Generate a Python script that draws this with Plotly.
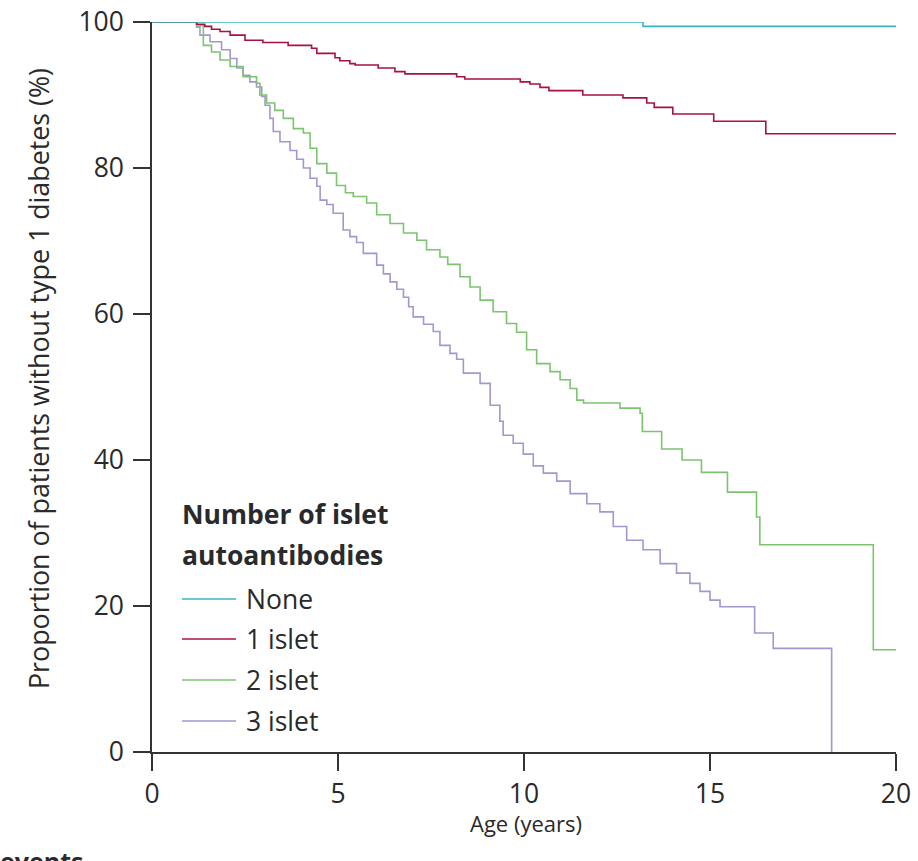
import plotly.graph_objects as go

# ---------------- data ----------------
none_t = [0, 13.2, 20]
none_v = [100, 99.4, 99.4]

one_t = [0, 1.2, 1.42, 1.6, 1.83, 2.1, 2.5, 2.98, 3.66, 4.29, 4.43, 4.92, 5.05, 5.32, 5.46,
         6.08, 6.53, 6.8, 8.19, 8.41, 9.9, 10.16, 10.43, 10.67, 11.58, 12.66, 13.3, 13.5,
         14.0, 15.1, 16.5, 20]
one_v = [100, 99.7, 99.4, 99.0, 98.7, 98.2, 97.5, 97.2, 96.8, 96.4, 95.7, 95.1, 94.7, 94.3, 94.1,
         93.7, 93.2, 92.9, 92.5, 92.2, 91.8, 91.5, 91.05, 90.6, 90.0, 89.6, 88.9, 88.3,
         87.4, 86.4, 84.7, 84.7]

two_t = [0, 1.2, 1.38, 1.6, 1.83, 2.1, 2.45, 2.81, 2.9, 3.08, 3.3, 3.53, 3.8, 4.07, 4.25, 4.43,
         4.7, 4.96, 5.2, 5.41, 5.77, 6.04, 6.4, 6.76, 7.12, 7.38, 7.74, 7.95, 8.28, 8.55, 8.82,
         9.17, 9.53, 9.8, 10.07, 10.34, 10.7, 10.97, 11.24, 11.42, 11.6, 12.58, 13.12, 13.18,
         13.7, 14.25, 14.77, 15.47, 16.25, 16.34, 19.39, 20]
two_v = [100, 99.5, 96.8, 95.9, 94.8, 93.9, 92.5, 91.6, 90.0, 88.9, 87.9, 86.8, 85.4, 84.8, 82.7, 80.6,
         79.3, 77.6, 76.6, 76.1, 75.2, 73.6, 72.4, 71.1, 70.1, 68.8, 67.8, 66.8, 65.1, 63.7, 61.9,
         60.3, 58.7, 57.5, 55.1, 53.2, 52.1, 51.0, 49.8, 48.2, 47.8, 47.1, 46.4, 43.9,
         41.5, 40.0, 38.3, 35.6, 32.2, 28.4, 14.0, 14.0]

three_t = [0, 1.2, 1.29, 1.56, 1.87, 2.1, 2.28, 2.45, 2.63, 2.81, 2.95, 3.04, 3.17, 3.26, 3.44,
           3.71, 3.89, 4.07, 4.25, 4.43, 4.52, 4.7, 4.87, 5.14, 5.32, 5.5, 5.68, 6.04, 6.22, 6.4,
           6.58, 6.76, 6.9, 7.02, 7.3, 7.56, 7.74, 8.01, 8.19, 8.37, 8.82, 9.09, 9.35, 9.44, 9.71,
           9.98, 10.25, 10.52, 10.88, 11.24, 11.69, 12.04, 12.4, 12.76, 13.2, 13.66, 14.1, 14.46,
           14.73, 15.0, 15.27, 16.2, 16.7, 18.27]
three_v = [100, 99.3, 98.2, 97.3, 96.2, 95.0, 93.7, 92.7, 91.8, 91.1, 89.8, 88.6, 86.8, 85.0, 83.6,
           82.4, 81.2, 80.0, 78.6, 77.5, 75.6, 75.0, 73.8, 71.5, 70.6, 69.8, 68.3, 66.7, 65.5, 64.4,
           63.4, 62.3, 61.0, 59.6, 58.6, 57.6, 55.7, 54.6, 53.8, 51.9, 50.5, 47.5, 45.3, 43.4, 42.3,
           40.8, 39.2, 38.2, 37.1, 35.4, 34.0, 32.9, 30.9, 29.0, 27.7, 25.8, 24.5, 23.1,
           22.0, 20.8, 19.9, 16.3, 14.2, 0]

series_names = ["None", "1 islet", "2 islet", "3 islet"]
x_ticks = [0, 5, 10, 15, 20]
y_ticks = [0, 20, 40, 60, 80, 100]

# ---------------- styling ----------------
colors = ["#3cb4c0", "#a8123f", "#7cc470", "#a397cf"]
FONT = "Open Sans"
TXT = "#2a2a2a"

W, H = 918, 861
SX0, SX1, SY0, SY1 = 152, 896, 22, 752   # plot area in page pixels
L, T = SX0, SY0
R = W - SX1
B = H - SY1
PW, PH = SX1 - SX0, SY1 - SY0


def px_x(px):
    return (px - SX0) / PW


def px_y(py):
    return (SY1 - py) / PH


fig = go.Figure()
for t, v, name, c in zip([none_t, one_t, two_t, three_t],
                         [none_v, one_v, two_v, three_v], series_names, colors):
    fig.add_trace(go.Scatter(x=t, y=v, mode="lines", name=name,
                             line=dict(color=c, width=1.6, shape="hv"),
                             cliponaxis=False, showlegend=False))

fig.data = fig.data[::-1]

fig.update_layout(
    width=W, height=H,
    margin=dict(l=L, r=R, t=T, b=B, autoexpand=False),
    paper_bgcolor="white", plot_bgcolor="white",
    font=dict(family=FONT, color=TXT, size=24),
    showlegend=False,
)
axis_common = dict(showgrid=False, zeroline=False, showline=True, linecolor="#333",
                   linewidth=1.5, ticks="outside", ticklen=17, tickwidth=1.5,
                   tickcolor="#333", ticklabeloverflow="allow", automargin=False,
                   tickfont=dict(family=FONT, size=26.5, color=TXT))
fig.update_xaxes(range=[0, 20], tickvals=x_ticks, ticktext=[str(v) for v in x_ticks],
                 **axis_common)
fig.update_yaxes(range=[0, 100], tickvals=y_ticks, ticktext=[str(v) for v in y_ticks],
                 ticklabelstandoff=4, **axis_common)

ann = []
ann.append(dict(text="Proportion of patients without type 1 diabetes (%)", textangle=-90,
                x=px_x(38), y=px_y(379), xref="paper", yref="paper", showarrow=False,
                xanchor="center", yanchor="middle",
                font=dict(size=26.8, family=FONT, color=TXT)))
ann.append(dict(text="Age (years)", x=px_x(526), y=px_y(823), xref="paper", yref="paper",
                xanchor="center", yanchor="middle", showarrow=False,
                font=dict(size=22, family=FONT, color=TXT)))
ann.append(dict(text="<b>events</b>", x=px_x(-2), y=px_y(842), xref="paper", yref="paper",
                xanchor="left", yanchor="top", showarrow=False,
                font=dict(size=25, family=FONT, color=TXT)))
# manual legend
ann.append(dict(text="<b>Number of islet</b>", x=px_x(180), y=px_y(514), xref="paper",
                yref="paper", xanchor="left", yanchor="middle", showarrow=False,
                font=dict(size=26.5, family=FONT, color=TXT)))
ann.append(dict(text="<b>autoantibodies</b>", x=px_x(180), y=px_y(555), xref="paper",
                yref="paper", xanchor="left", yanchor="middle", showarrow=False,
                font=dict(size=26.5, family=FONT, color=TXT)))
shapes = []
leg_y = [599, 639, 680, 721]
for name, c, yy in zip(series_names, colors, leg_y):
    shapes.append(dict(type="line", xref="paper", yref="paper", x0=px_x(182), x1=px_x(236),
                       y0=px_y(yy), y1=px_y(yy), line=dict(color=c, width=1.6)))
    ann.append(dict(text=name, x=px_x(244), y=px_y(yy), xref="paper", yref="paper",
                    xanchor="left", yanchor="middle", showarrow=False,
                    font=dict(size=26.5, family=FONT, color=TXT)))
fig.update_layout(annotations=ann, shapes=shapes)

fig.write_html("out.html", config={"displayModeBar": False},
               post_script="document.body.style.margin='0';"
                           "document.body.style.overflow='hidden';")
